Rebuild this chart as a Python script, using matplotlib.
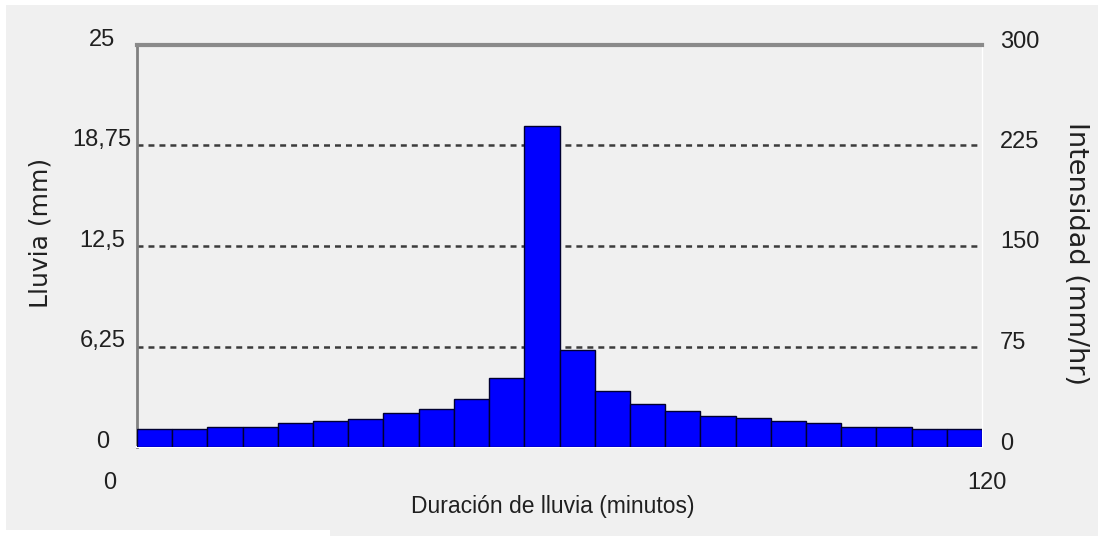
import matplotlib
matplotlib.use("Agg")
import matplotlib.pyplot as plt
from matplotlib.transforms import ScaledTranslation
from matplotlib.patches import Rectangle

# ---- data ----
bar_start_min = [0, 5, 10, 15, 20, 25, 30, 35, 40, 45, 50, 55,
                 60, 65, 70, 75, 80, 85, 90, 95, 100, 105, 110, 115]
rain_mm = [1.12, 1.12, 1.26, 1.26, 1.47, 1.62, 1.76, 2.10, 2.36, 3.00, 4.27, 19.96,
           6.03, 3.48, 2.67, 2.21, 1.93, 1.78, 1.62, 1.47, 1.26, 1.26, 1.12, 1.12]
left_ticks = [0, 6.25, 12.5, 18.75, 25]
left_tick_labels = ["0", "6,25", "12,5", "18,75", "25"]
right_ticks = [0, 75, 150, 225, 300]
right_tick_labels = ["0", "75", "150", "225", "300"]
x_ticks = [0, 120]
x_tick_labels = ["0", "120"]
grid_levels = [6.25, 12.5, 18.75]

W, H = 1098, 536
fig = plt.figure(figsize=(W / 100, H / 100), dpi=100)
fig.patch.set_facecolor("white")
fig.patches.append(Rectangle((6 / W, 0), 1 - 6 / W, 1 - 5 / H, transform=fig.transFigure,
                             facecolor="#f0f0f0", edgecolor="none", zorder=-10))
fig.patches.append(Rectangle((0, 0), 330 / W, 6 / H, transform=fig.transFigure,
                             facecolor="white", edgecolor="none", zorder=-9))

ax = fig.add_axes([137 / W, 1 - 447 / H, 845 / W, 402 / H])
ax.set_facecolor("none")
ax.bar(bar_start_min, rain_mm, width=5, align="edge", color="#0000ff",
       edgecolor="#000030", linewidth=1.0, zorder=3)
ax.set_xlim(0, 120)
ax.set_ylim(0, 25)

plt.rcParams["lines.scale_dashes"] = False
for g in grid_levels:
    ax.axhline(g, color="#3c3c3c", linewidth=1.8, linestyle=(0, (4.3, 3.6)), zorder=2)

narrow = ["Liberation Sans", "DejaVu Sans"]
tick_fs = 17

# spines
ax.spines["top"].set_color("#8a8a8a")
ax.spines["top"].set_linewidth(3)
ax.spines["left"].set_color("#808080")
ax.spines["left"].set_linewidth(2)
ax.spines["right"].set_color("white")
ax.spines["right"].set_linewidth(1)
ax.spines["bottom"].set_color("white")
ax.spines["bottom"].set_linewidth(1.5)

# left ticks
ax.set_yticks(left_ticks)
ax.set_yticklabels(left_tick_labels, family=narrow, fontsize=tick_fs, color="#202020")
ax.tick_params(axis="y", length=0, pad=25)
for lab in ax.get_yticklabels():
    lab.set_horizontalalignment("center")
    lab.set_transform(lab.get_transform() + ScaledTranslation(0, 8 / 100, fig.dpi_scale_trans))

# x ticks
ax.set_xticks(x_ticks)
ax.set_xticklabels(x_tick_labels, family=narrow, fontsize=tick_fs, color="#202020")
ax.tick_params(axis="x", length=0, pad=18)
xoffs = [-27, 5]
for lab, dx in zip(ax.get_xticklabels(), xoffs):
    lab.set_transform(lab.get_transform() + ScaledTranslation(dx / 100, 0, fig.dpi_scale_trans))

# right axis
ax2 = ax.twinx()
ax2.set_ylim(0, 300)
ax2.set_yticks(right_ticks)
ax2.set_yticklabels(right_tick_labels, family=narrow, fontsize=tick_fs, color="#202020")
ax2.tick_params(axis="y", length=0, pad=13)
for s in ax2.spines.values():
    s.set_visible(False)
for lab in ax2.get_yticklabels():
    lab.set_transform(lab.get_transform() + ScaledTranslation(0, 6 / 100, fig.dpi_scale_trans))

# axis labels
fig.text(41 / W, 1 - 233 / H, "Lluvia (mm)", rotation=90, ha="center", va="center",
         family="DejaVu Sans", fontsize=18, color="#202020")
fig.text(1076 / W, 1 - 254 / H, "Intensidad (mm/hr)", rotation=-90, ha="center", va="center",
         family="DejaVu Sans", fontsize=19.5, color="#202020")
fig.text(553 / W, 1 - 507 / H, "Duración de lluvia (minutos)", ha="center", va="center",
         family=narrow, fontsize=16.5, color="#202020")

fig.savefig("out.png", dpi=100)
